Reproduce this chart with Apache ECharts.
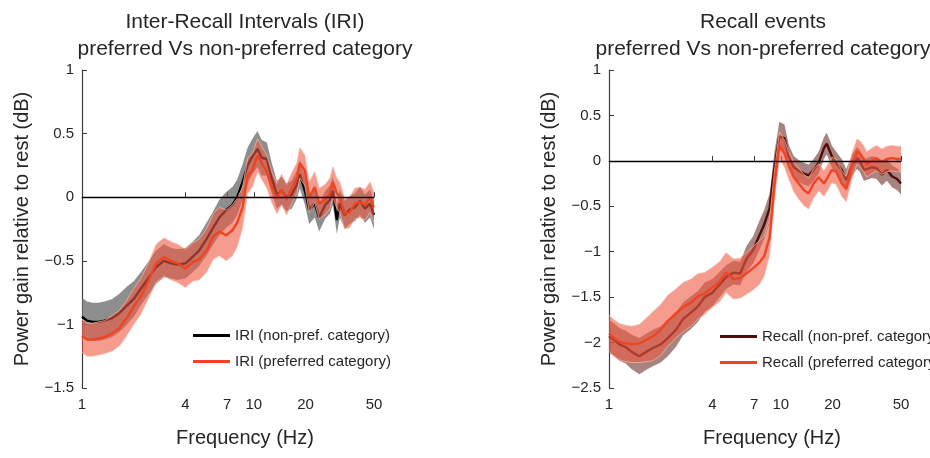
<!DOCTYPE html>
<html><head><meta charset="utf-8">
<script src="https://cdn.jsdelivr.net/npm/echarts@6/dist/echarts.min.js"></script>
<style>html,body{margin:0;padding:0;background:#fff}#c{width:930px;height:458px}</style>
</head><body><div id="c"></div>
<script>
// Frequency grid (Hz)
const freqs = [1, 1.07, 1.15, 1.25, 1.35, 1.5, 1.65, 1.8, 2, 2.2, 2.45, 2.7, 3, 3.3, 3.6, 4, 4.4, 4.8, 5.3, 5.8, 6.3, 6.9, 7.5, 8, 8.6, 9.2, 9.8, 10.5, 11.1, 11.9, 12.7, 13.6, 14.5, 15.5, 16.6, 17.8, 18.5, 19.8, 21, 22.6, 24, 26, 27.7, 28.8, 30.4, 31.6, 33.8, 36, 38.7, 41.4, 44.3, 47.4, 50];
const xTicks = [1, 4, 7, 10, 20, 50];

// Left panel: Inter-Recall Intervals
const iriNon = [-0.94,-0.97,-0.98,-0.98,-0.97, -0.95,-0.91,-0.86,-0.80,-0.72, -0.63,-0.55,-0.50,-0.52,-0.53, -0.52,-0.47,-0.42,-0.33,-0.24, -0.16,-0.10,-0.06,0.00,0.12, 0.25,0.32,0.38,0.31,0.30, 0.15,0.02,0.05,0.00,0.02, 0.10,0.18,0.05,-0.10,-0.05, -0.16,-0.06,-0.02,0.05,-0.18, -0.05,-0.14,-0.10,-0.08,-0.03, -0.09,-0.05,-0.14];
const iriNonSem = [0.15,0.15,0.15,0.15,0.15, 0.15,0.15,0.15,0.14,0.13, 0.13,0.13,0.13,0.12,0.12, 0.12,0.12,0.12,0.13,0.13, 0.14,0.14,0.14,0.14,0.14, 0.14,0.14,0.14,0.14,0.13, 0.12,0.11,0.11,0.11,0.11, 0.11,0.11,0.11,0.11,0.11, 0.11,0.11,0.11,0.11,0.11, 0.11,0.11,0.11,0.11,0.11, 0.11,0.11,0.11];
const iriPref = [-1.09,-1.12,-1.12,-1.11,-1.10, -1.07,-1.03,-0.96,-0.86,-0.78, -0.65,-0.52,-0.47,-0.50,-0.52, -0.56,-0.51,-0.49,-0.42,-0.31, -0.27,-0.30,-0.26,-0.20,-0.08, 0.17,0.21,0.33,0.27,0.20, 0.08,-0.01,0.06,-0.02,0.07, 0.15,0.27,0.21,0.00,0.08, -0.05,-0.02,0.03,0.12,0.03, 0.00,-0.13,-0.12,-0.05,-0.04, -0.06,0.00,-0.08];
const iriPrefSem = [0.13,0.13,0.13,0.13,0.13, 0.14,0.14,0.14,0.14,0.14, 0.14,0.15,0.15,0.15,0.15, 0.15,0.15,0.16,0.17,0.18, 0.19,0.20,0.20,0.19,0.16, 0.14,0.13,0.13,0.13,0.13, 0.12,0.12,0.12,0.12,0.12, 0.12,0.12,0.12,0.12,0.12, 0.12,0.12,0.12,0.12,0.12, 0.12,0.12,0.12,0.12,0.12, 0.12,0.12,0.12];

// Right panel: Recall events
const recNon = [-1.93,-1.97,-2.02,-2.05,-2.10, -2.15,-2.10,-2.06,-2.02,-1.95, -1.86,-1.74,-1.67,-1.60,-1.50, -1.45,-1.36,-1.28,-1.23,-1.24, -1.08,-0.98,-0.82,-0.70,-0.52, -0.05,0.27,0.25,0.05,-0.07, -0.11,-0.14,-0.16,-0.10,-0.02, 0.14,0.19,0.05,-0.02,-0.10, -0.21,-0.05,0.03,0.00,-0.10, -0.09,-0.07,-0.08,-0.15,-0.10, -0.17,-0.20,-0.25];
const recNonSem = [0.18,0.18,0.18,0.18,0.19, 0.20,0.20,0.20,0.20,0.20, 0.19,0.18,0.18,0.17,0.16, 0.15,0.14,0.13,0.13,0.13, 0.14,0.15,0.16,0.16,0.16, 0.16,0.16,0.15,0.13,0.12, 0.12,0.12,0.12,0.12,0.12, 0.12,0.12,0.12,0.12,0.12, 0.12,0.12,0.12,0.12,0.12, 0.12,0.12,0.12,0.12,0.12, 0.12,0.12,0.12];
const recPref = [-1.90,-1.95,-1.99,-2.01,-2.02, -2.01,-1.97,-1.93,-1.86,-1.76, -1.68,-1.61,-1.56,-1.49,-1.46, -1.39,-1.33,-1.23,-1.30,-1.29, -1.24,-1.18,-1.12,-1.05,-0.84, -0.25,0.17,0.08,-0.05,-0.18, -0.25,-0.32,-0.36,-0.25,-0.18, -0.25,-0.20,-0.10,-0.12,-0.25, -0.31,-0.05,0.10,0.08,0.02, -0.04,0.00,0.03,-0.01,0.02, 0.03,0.02,0.02];
const recPrefSem = [0.20,0.20,0.20,0.20,0.20, 0.21,0.24,0.27,0.28,0.28, 0.27,0.27,0.26,0.25,0.23, 0.22,0.22,0.22,0.22,0.22, 0.23,0.24,0.24,0.22,0.20, 0.16,0.15,0.15,0.15,0.16, 0.17,0.17,0.17,0.16,0.15, 0.14,0.14,0.14,0.14,0.14, 0.14,0.14,0.14,0.14,0.14, 0.14,0.14,0.14,0.14,0.14, 0.14,0.14,0.14];

const FONT = 'Liberation Sans, Arial, sans-serif';
const TXT = '#262626';
const AX = '#3a3a3a';

// Confidence band: one polygon per series, built through the axis scales (api.coord)
function band(vals, sem, idx, color, opacity, edge, z) {
  const rows = freqs.map((f, i) => [f, vals[i] - sem[i], vals[i] + sem[i]]);
  return {
    type: 'custom', coordinateSystem: 'cartesian2d', xAxisIndex: idx, yAxisIndex: idx, silent: true, z: z,
    data: rows, encode: { x: 0, y: [1, 2] },
    renderItem: function (params, api) {
      if (params.dataIndex !== 0) return null;
      const up = [], lo = [];
      for (let i = 0; i < rows.length; i++) {
        up.push(api.coord([rows[i][0], rows[i][2]]));
        lo.push(api.coord([rows[i][0], rows[i][1]]));
      }
      const children = [{ type: 'polygon', shape: { points: up.concat(lo.slice().reverse()) },
        style: { fill: color, opacity: opacity } }];
      if (edge) {
        children.push({ type: 'polyline', shape: { points: up }, style: { fill: null, stroke: edge, lineWidth: 1 } });
        children.push({ type: 'polyline', shape: { points: lo }, style: { fill: null, stroke: edge, lineWidth: 1 } });
      }
      return { type: 'group', children: children };
    }
  };
}
function line(name, vals, idx, color, zeroLine, z) {
  const s = { type: 'line', name: name, xAxisIndex: idx, yAxisIndex: idx, symbol: 'none', z: z,
    data: freqs.map((f, i) => [f, vals[i]]), lineStyle: { color: color, width: 2.4 }, itemStyle: { color: color },
    emphasis: { disabled: true } };
  if (zeroLine) {
    s.markLine = { silent: true, symbol: 'none', label: { show: false }, z: 10,
      lineStyle: { color: '#000', width: 1.3, type: 'solid' }, data: [{ yAxis: 0 }] };
  }
  return s;
}
function xAxis(idx) {
  return { type: 'log', logBase: 10, gridIndex: idx, min: 1, max: 50,
    name: 'Frequency (Hz)', nameLocation: 'middle', nameGap: 40,
    nameTextStyle: { fontFamily: FONT, fontSize: 20, color: TXT, padding: [0, 0, 0, 34] },
    axisLine: { show: true, lineStyle: { color: AX, width: 1.2 } },
    axisTick: { show: true, inside: true, length: 5, customValues: xTicks, lineStyle: { color: AX } },
    axisLabel: { customValues: xTicks, fontFamily: FONT, fontSize: 15, color: TXT, margin: 9,
      formatter: v => String(Math.round(v)) },
    splitLine: { show: false }, minorTick: { show: false } };
}
function yAxis(idx, min) {
  return { type: 'value', gridIndex: idx, min: min, max: 1, interval: 0.5,
    name: 'Power gain relative to rest (dB)', nameLocation: 'middle', nameGap: 50,
    nameTextStyle: { fontFamily: FONT, fontSize: 20, color: TXT },
    axisLine: { show: true, lineStyle: { color: AX, width: 1.2 } },
    axisTick: { show: true, inside: true, length: 5, lineStyle: { color: AX } },
    axisLabel: { fontFamily: FONT, fontSize: 15, color: TXT, margin: 8,
      formatter: v => String(v).replace('-', '\u2212') },
    splitLine: { show: false } };
}
const legendCommon = { orient: 'vertical', icon: 'rect', itemWidth: 37, itemHeight: 3, itemGap: 9,
  textStyle: { fontFamily: FONT, fontSize: 15, color: TXT, lineHeight: 17 }, selectedMode: false };

const chart = echarts.init(document.getElementById('c'));
chart.setOption({
  animation: false,
  backgroundColor: '#fff',
  title: [
    { text: 'Inter-Recall Intervals (IRI)\npreferred Vs non-preferred category', left: 240, top: 4, textAlign: 'center',
      textStyle: { fontFamily: FONT, fontSize: 21, fontWeight: 'normal', color: TXT, lineHeight: 27 } },
    { text: 'Recall events\npreferred Vs non-preferred category', left: 758, top: 4, textAlign: 'center',
      textStyle: { fontFamily: FONT, fontSize: 21, fontWeight: 'normal', color: TXT, lineHeight: 27 } }
  ],
  grid: [
    { left: 82, right: 556, top: 70, bottom: 70 },
    { left: 609, right: 29, top: 70, bottom: 70 }
  ],
  xAxis: [xAxis(0), xAxis(1)],
  yAxis: [yAxis(0, -1.5), yAxis(1, -2.5)],
  legend: [
    Object.assign({}, legendCommon, { left: 188, top: 322, data: ['IRI (non-pref. category)', 'IRI (preferred category)'] }),
    Object.assign({}, legendCommon, { left: 715, top: 323, data: ['Recall (non-pref. category)', 'Recall (preferred category)'] })
  ],
  series: [
    band(iriNon, iriNonSem, 0, '#6e6e6e', 0.78, null, 1),
    line('IRI (non-pref. category)', iriNon, 0, '#000000', false, 2),
    band(iriPref, iriPrefSem, 0, '#ee5a44', 0.6, 'rgba(250,185,170,0.7)', 3),
    line('IRI (preferred category)', iriPref, 0, '#ee4422', true, 4),
    band(recNon, recNonSem, 1, '#6e322d', 0.6, null, 1),
    line('Recall (non-pref. category)', recNon, 1, '#4e0d08', false, 2),
    band(recPref, recPrefSem, 1, '#ee5a44', 0.6, 'rgba(250,185,170,0.7)', 3),
    line('Recall (preferred category)', recPref, 1, '#ef4524', true, 4)
  ]
});
</script></body></html>
